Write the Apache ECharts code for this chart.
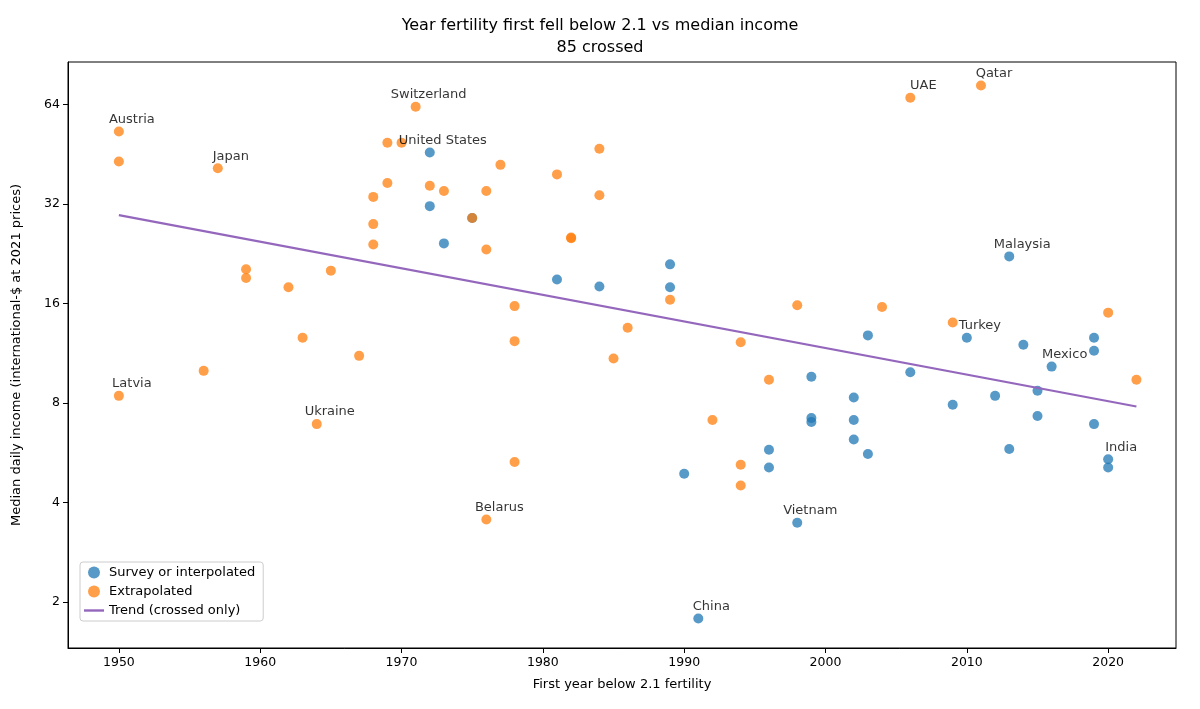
<!DOCTYPE html>
<html>
<head>
<meta charset="utf-8">
<script src="https://cdn.jsdelivr.net/npm/echarts@6/dist/echarts.min.js"></script>
<style>html,body{margin:0;padding:0;background:#fff}#chart{width:1200px;height:709px}</style>
</head>
<body>
<div id="chart"></div>
<script>
// survey or interpolated points [year, median daily income]
const surveyPoints = [
  [1972,45.8],[1972,31.5],[1975,29],[1973,24.3],[1981,18.9],[1984,18],[1989,21],[1989,17.9],
  [1990,4.88],[1991,1.78],[1998,3.47],[1996,5.77],[1996,5.1],[1999,9.6],[1999,7.2],[1999,7.0],
  [2002,8.3],[2002,7.1],[2002,6.2],[2003,5.6],[2003,12.8],[2006,9.9],[2009,7.9],[2010,12.6],
  [2012,8.4],[2013,22.2],[2013,5.8],[2014,12.0],[2015,8.7],[2015,7.3],[2016,10.3],
  [2019,12.6],[2019,11.5],[2019,6.9],[2020,5.4],[2020,5.1]
];
// extrapolated points
const extrapPoints = [
  [1950,53],[1950,43],[1950,8.4],[1957,41],[1956,10.0],[1959,20.3],[1959,19.1],[1962,17.9],
  [1963,12.6],[1964,6.9],[1965,20.1],[1967,11.1],[1968,33.6],[1968,27.8],[1968,24.1],
  [1969,49],[1969,37],[1970,49],[1971,63],[1972,36.3],[1973,35],[1975,29],[1976,35],
  [1976,23.3],[1976,3.55],[1977,42],[1978,15.7],[1978,12.3],[1978,5.3],[1981,39.3],
  [1982,25.3],[1982,25.2],[1984,47],[1984,34],[1985,10.9],[1986,13.5],[1989,16.4],
  [1992,7.1],[1994,12.2],[1994,5.2],[1994,4.5],[1996,9.4],[1998,15.8],[2004,15.6],
  [2006,67],[2009,14],[2011,73],[2020,15],[2022,9.4]
];
// labelled countries: [year, income, name]
const labelled = [
  [1950,53,'Austria'],[1957,41,'Japan'],[1971,63,'Switzerland'],[1972,45.8,'United States'],
  [1950,8.4,'Latvia'],[1964,6.9,'Ukraine'],[1976,3.55,'Belarus'],[1991,1.78,'China'],
  [1998,3.47,'Vietnam'],[2006,67,'UAE'],[2011,73,'Qatar'],[2013,22.2,'Malaysia'],
  [2010,12.6,'Turkey'],[2016,10.3,'Mexico'],[2020,5.4,'India']
];
const trendLine = [[1950,29.6],[2022,7.8]];
const yTicks = [2,4,8,16,32,64];
const xTicks = [1950,1960,1970,1980,1990,2000,2010,2020];

const chart = echarts.init(document.getElementById('chart'));
const txt = {color:'#000', fontFamily:'DejaVu Sans'};
chart.setOption({
  animation:false,
  title:{text:'Year fertility first fell below 2.1 vs median income\n85 crossed', left:'center', top:10,
    textStyle:{...txt, fontSize:16, fontWeight:'normal', lineHeight:22}},
  grid:{left:68, right:24, top:62, bottom:61, show:true, borderColor:'#000', borderWidth:1},
  xAxis:{type:'value', min:1946.4, max:2024.8,
    name:'First year below 2.1 fertility', nameLocation:'middle', nameGap:30, nameTextStyle:{...txt, fontSize:13},
    axisLine:{show:true, lineStyle:{color:'#000'}}, splitLine:{show:false},
    axisTick:{show:true, customValues:xTicks, length:5, lineStyle:{color:'#000'}},
    axisLabel:{customValues:xTicks, formatter:v=>String(v), ...txt, fontSize:12.5}},
  yAxis:{type:'log', logBase:2, min:1.45, max:86,
    name:'Median daily income (international-$ at 2021 prices)', nameLocation:'middle', nameGap:45, nameTextStyle:{...txt, fontSize:13},
    axisLine:{show:true, lineStyle:{color:'#000'}}, splitLine:{show:false},
    axisTick:{show:true, customValues:yTicks, length:5, lineStyle:{color:'#000'}},
    axisLabel:{customValues:yTicks, ...txt, fontSize:12.5}},
  legend:{orient:'vertical', left:80, top:562, itemGap:6, itemWidth:20, itemHeight:12,
    backgroundColor:'#fff', borderColor:'#ccc', borderWidth:1, borderRadius:3, padding:[4,8,4,4],
    textStyle:{...txt, fontSize:13},
    data:[{name:'Survey or interpolated', icon:'circle'},{name:'Extrapolated', icon:'circle'},
      {name:'Trend (crossed only)', icon:'path://M0,0H20V2.4H0Z'}]},
  series:[
    {name:'Survey or interpolated', type:'scatter', data:surveyPoints, symbolSize:10, z:3,
      itemStyle:{color:'#1f77b4', opacity:0.75}},
    {name:'Extrapolated', type:'scatter', data:extrapPoints, symbolSize:10, z:3,
      itemStyle:{color:'#ff7f0e', opacity:0.75}},
    {name:'Trend (crossed only)', type:'line', data:trendLine, symbol:'none', z:4,
      lineStyle:{color:'#9467bd', width:2.2}, itemStyle:{color:'#9467bd'}},
    {name:'labels', type:'scatter', data:labelled.map(d=>({value:[d[0],d[1]], name:d[2]})),
      symbolSize:1, itemStyle:{color:'rgba(0,0,0,0)'}, silent:true, z:5,
      label:{show:true, position:'top', distance:5, offset:[13,0], formatter:p=>p.name, ...txt, fontSize:13}}
  ]
});
</script>
</body>
</html>
